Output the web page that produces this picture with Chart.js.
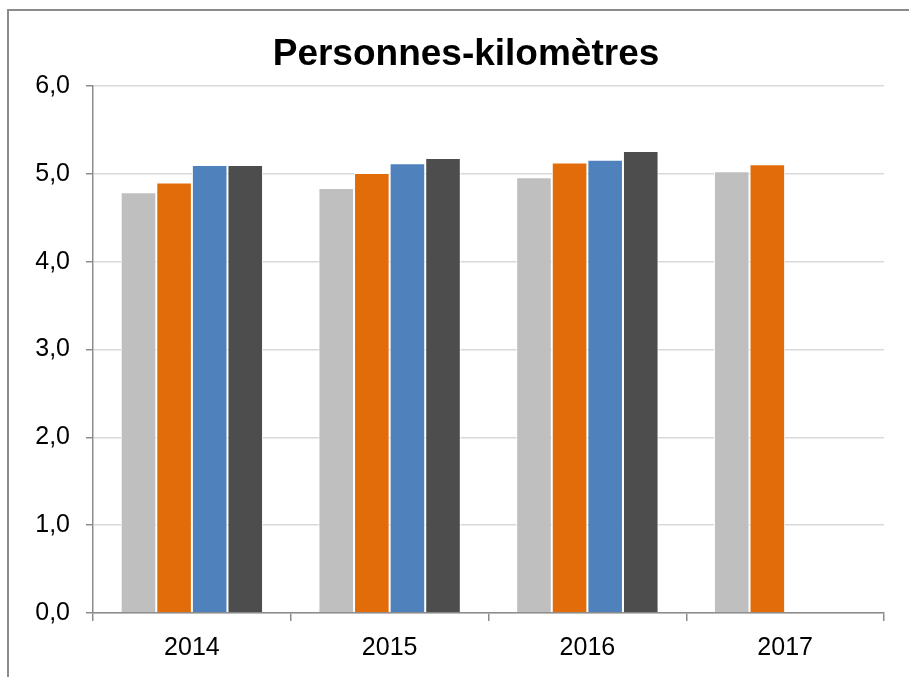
<!DOCTYPE html>
<html>
<head>
<meta charset="utf-8">
<script src="https://cdn.jsdelivr.net/npm/chart.js@4/dist/chart.umd.min.js"></script>
<style>
  html, body { margin: 0; padding: 0; background: #fff; overflow: hidden; }
  #frame { position: absolute; left: 7px; top: 9px; width: 1200px; height: 1000px;
           border-left: 2px solid #8c8c8c; border-top: 2px solid #8c8c8c; }
  #wrap { position: absolute; left: 0; top: 0; width: 909px; height: 677px; }
</style>
</head>
<body>
<div id="frame"></div>
<div id="wrap"><canvas id="chart" width="909" height="677"></canvas></div>
<script>
// Données
const annees = ['2014', '2015', '2016', '2017'];
const serie1 = [4.79, 4.84, 4.96, 5.03];
const serie2 = [4.90, 5.01, 5.13, 5.11];
const serie3 = [5.10, 5.12, 5.16, null];
const serie4 = [5.10, 5.18, 5.26, null];
const ticksY = [0, 1, 2, 3, 4, 5, 6];
const titre = 'Personnes-kilomètres';

const couleurs = ['#bfbfbf', '#e36c0a', '#4f81bd', '#4d4d4d'];
const series = [serie1, serie2, serie3, serie4];
const police = 'Liberation Sans, Arial, sans-serif';

const datasets = series.map((vals, i) => ({
    label: 'Série ' + (i + 1),
    data: vals,
    backgroundColor: couleurs[i],
    borderColor: '#ffffff',
    borderWidth: 1,
    barPercentage: 1,
    categoryPercentage: 0.72
}));

// Titre dessiné à la main pour le centrer comme dans Excel
const titrePlugin = {
    id: 'titre',
    afterDraw(chart) {
        const c = chart.ctx;
        c.save();
        c.font = 'bold 37px ' + police;
        c.fillStyle = '#000';
        c.textAlign = 'center';
        c.textBaseline = 'alphabetic';
        c.fillText(titre, 466, 65);
        c.restore();
    }
};

const ctx = document.getElementById('chart').getContext('2d');
new Chart(ctx, {
    type: 'bar',
    data: { labels: annees, datasets: datasets },
    options: {
        responsive: false,
        animation: false,
        layout: { padding: { left: 0, right: 25, top: 86, bottom: 2 } },
        plugins: {
            legend: { display: false },
            tooltip: { enabled: false },
            title: { display: false }
        },
        scales: {
            x: {
                grid: { drawOnChartArea: false, drawTicks: true, tickLength: 8, color: '#8c8c8c', lineWidth: 1.5 },
                border: { color: '#8c8c8c', width: 1.5 },
                ticks: { color: '#000', padding: 12, font: { family: police, size: 25 } }
            },
            y: {
                min: 0,
                max: 6,
                afterBuildTicks: (scale) => { scale.ticks = ticksY.map(v => ({ value: v })); },
                afterFit: (scale) => { scale.width = 93; },
                grid: { color: '#d9d9d9', lineWidth: 1.5, tickLength: 7, tickColor: '#8c8c8c' },
                border: { color: '#8c8c8c', width: 1.5 },
                ticks: {
                    color: '#000',
                    padding: 16,
                    font: { family: police, size: 25 },
                    callback: (v) => Number(v).toFixed(1).replace('.', ',')
                }
            }
        }
    },
    plugins: [titrePlugin]
});
</script>
</body>
</html>
